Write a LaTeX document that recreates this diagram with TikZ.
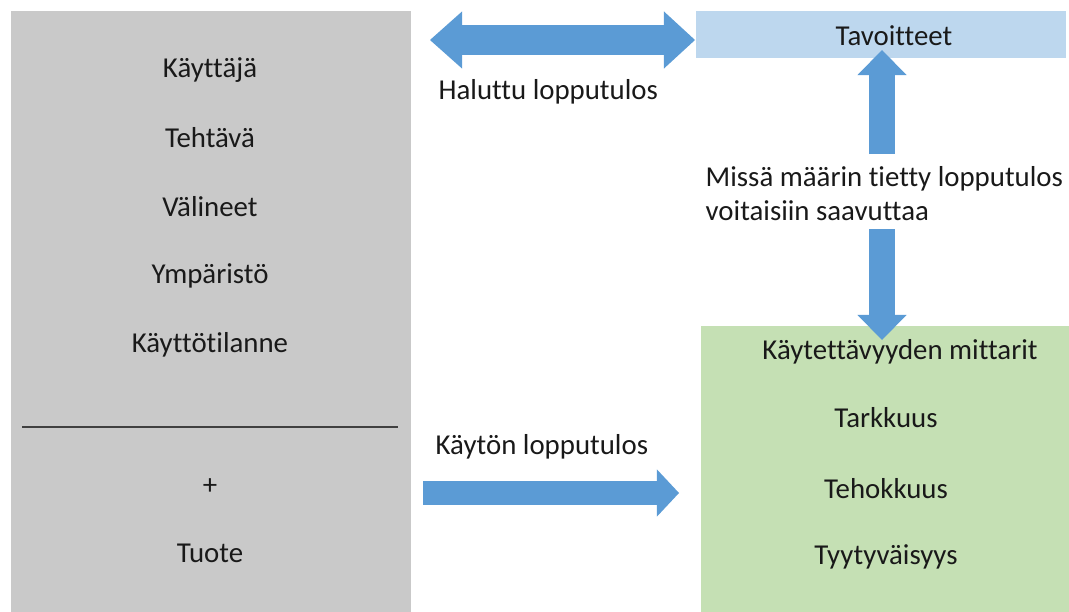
\documentclass[tikz,border=0pt]{standalone}
\usepackage{fontspec}
\setmainfont{Carlito}[Ligatures=NoCommon]
\usetikzlibrary{arrows.meta,positioning}

\definecolor{panelgray}{HTML}{C9C9C9}
\definecolor{goalblue}{HTML}{BDD7EE}
\definecolor{measgreen}{HTML}{C5E0B4}
\definecolor{arrowblue}{HTML}{5B9BD5}
\definecolor{rulegray}{HTML}{404040}

\begin{document}
\begin{tikzpicture}[x=0.01cm,y=-0.01cm,
    every node/.style={font=\fontsize{8.2}{9.7}\selectfont,text=black!90},
    panel/.style={inner sep=0,anchor=north west},
    lbl/.style={inner sep=0,anchor=west},
    upright/.style={line width=0.26cm,draw=arrowblue,
        -{Triangle[width=0.49cm,length=0.25cm,line width=0pt]}},
    twoway/.style={line width=0.29cm,draw=arrowblue,
        {Triangle[width=0.57cm,length=0.32cm,line width=0pt]}-{Triangle[width=0.57cm,length=0.31cm,line width=0pt]}},
    flat/.style={line width=0.24cm,draw=arrowblue,
        -{Triangle[width=0.47cm,length=0.22cm,line width=0pt]}}]

    \useasboundingbox (0,0) rectangle (1069,612);

    % the three panels
    \node[panel,fill=panelgray,minimum width=4cm,minimum height=6.02cm] (user) at (10,10) {};
    \node[panel,fill=goalblue,minimum width=3.70cm,minimum height=0.47cm] (goal) at (695,10) {};
    \node[panel,fill=measgreen,minimum width=3.69cm,minimum height=2.87cm] (meas) at (700,325) {};

    % context of use
    \foreach \nm/\txt/\y in {
    kay/Käyttäjä/70,
    teh/Tehtävä/138,
    val/Välineet/207,
    ymp/Ympäristö/276,
    kt/Käyttötilanne/345,
    plus/+/487,
    tuote/Tuote/553} {
    \node (\nm) at (210,\y) {\txt};
    }
    \coordinate (r1) at (22,427);
    \coordinate (r2) at (398,427);
    \draw[rulegray,line width=0.45pt] (r1) -- (r2);

    \node (goaltxt) at (894,36) {Tavoitteet};

    % usability measures
    \node (mitt) at (900,352) {Käytettävyyden mittarit};
    \foreach \nm/\txt/\y in {
    tark/Tarkkuus/418,
    tehok/Tehokkuus/489,
    tyyt/Tyytyväisyys/557} {
    \node (\nm) at (886,\y) {\txt};
    }

    % labels
    \node[lbl] (halu) at (438,92) {Haluttu lopputulos};
    \node[lbl] (kayton) at (435,447) {Käytön lopputulos};
    \node[lbl,align=left] (missa) at (705,194) {Missä määrin tietty lopputulos\\voitaisiin saavuttaa};

    % block arrows
    \coordinate (h1) at (430,40);
    \coordinate (h2) at (695,40);
    \draw[twoway] (h1) -- (h2);

    \coordinate (v1) at (882,154);
    \coordinate (v2) at (882,50);
    \draw[upright] (v1) -- (v2);

    \coordinate (v3) at (882,229);
    \coordinate (v4) at (882,340);
    \draw[upright] (v3) -- (v4);

    \coordinate (b1) at (423,493);
    \coordinate (b2) at (679,493);
    \draw[flat] (b1) -- (b2);

\end{tikzpicture}
\end{document}
